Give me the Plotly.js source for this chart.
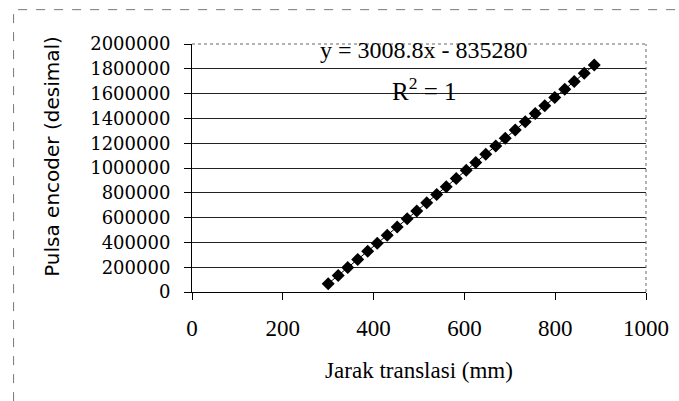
<!DOCTYPE html>
<html>
<head>
<meta charset="utf-8">
<script src="https://cdn.plot.ly/plotly-3.0.1.min.js"></script>
<style>
  html, body { margin: 0; padding: 0; background: #fff; }
  #chart { width: 679px; height: 401px; }
</style>
</head>
<body>
<div id="chart"></div>
<script>
// Data
var jarakTranslasi = [300, 322, 343, 365, 387, 408, 430, 452, 474, 495, 517, 539, 560, 582,
                      604, 625, 647, 669, 690, 712, 734, 756, 777, 799, 821, 842, 864, 886];
var pulsaEncoder = [67400, 133600, 196700, 262900, 329100, 392300, 458500, 524700, 590900, 654100,
                    720300, 786500, 849600, 915800, 982000, 1045200, 1111400, 1177600, 1240800, 1307000,
                    1373200, 1439400, 1502600, 1568800, 1634900, 1698100, 1764300, 1830500];
var xTickValues = [0, 200, 400, 600, 800, 1000];
var yTickValues = [0, 200000, 400000, 600000, 800000, 1000000, 1200000, 1400000, 1600000, 1800000, 2000000];
var xTitle = "Jarak translasi (mm)";
var yTitle = "Pulsa encoder (desimal)";
var equationText = "y = 3008.8x - 835280";
var r2Text = "R<sup>2</sup> = 1";

var trace = {
  x: jarakTranslasi,
  y: pulsaEncoder,
  type: 'scatter',
  mode: 'lines+markers',
  line: { color: '#000', width: 1 },
  marker: { symbol: 'diamond', size: 10, color: '#000' },
  hoverinfo: 'skip',
  showlegend: false
};

var serif = 'Liberation Serif, Times New Roman, serif';

var layout = {
  width: 679,
  height: 401,
  margin: { l: 191.5, r: 33, t: 43.5, b: 108.5 },
  paper_bgcolor: '#fff',
  plot_bgcolor: '#fff',
  showlegend: false,
  xaxis: {
    range: [0, 1000],
    tickvals: xTickValues,
    ticktext: xTickValues.map(String),
    showgrid: false,
    zeroline: false,
    showline: true,
    linecolor: '#000',
    linewidth: 1,
    ticks: 'outside',
    ticklen: 7,
    tickcolor: '#000',
    tickfont: { family: serif, size: 23, color: '#000' },
    ticklabelstandoff: 8,
    title: { text: xTitle, font: { family: serif, size: 23, color: '#000' }, standoff: 22 },
    fixedrange: true
  },
  yaxis: {
    range: [0, 2000000],
    tickvals: yTickValues,
    ticktext: yTickValues.map(String),
    showgrid: true,
    gridcolor: '#222',
    gridwidth: 1,
    zeroline: false,
    showline: true,
    linecolor: '#000',
    linewidth: 1,
    ticks: 'outside',
    ticklen: 7,
    tickcolor: '#000',
    tickfont: { family: 'DejaVu Serif, serif', size: 18, color: '#000' },
    ticklabelstandoff: 10,
    fixedrange: true
  },
  shapes: [
    { type: 'line', xref: 'paper', yref: 'paper', x0: 0, x1: 1, y0: 1, y1: 1,
      line: { color: '#666', width: 1, dash: 'dot' } },
    { type: 'line', xref: 'paper', yref: 'paper', x0: 1, x1: 1, y0: 0, y1: 1,
      line: { color: '#666', width: 1, dash: 'dot' } },
    { type: 'path', xref: 'paper', yref: 'paper',
      path: 'M -0.393 -0.44 L -0.393 1.1385 L 1.08 1.1385',
      line: { color: '#777', width: 1, dash: 'dash' } }
  ],
  annotations: [
    { x: 510, y: 1955000, xref: 'x', yref: 'y', text: equationText, showarrow: false,
      font: { family: serif, size: 24, color: '#000' }, xanchor: 'center', yanchor: 'middle' },
    { x: 512, y: 1640000, xref: 'x', yref: 'y', text: r2Text, showarrow: false,
      font: { family: serif, size: 25, color: '#000' }, xanchor: 'center', yanchor: 'middle' },
    { x: -0.31, y: 0.546, xref: 'paper', yref: 'paper', text: yTitle, showarrow: false,
      textangle: -90, font: { family: 'DejaVu Sans, sans-serif', size: 20, color: '#000' },
      xanchor: 'center', yanchor: 'middle' }
  ]
};

Plotly.newPlot('chart', [trace], layout, { staticPlot: true, displayModeBar: false });
</script>
</body>
</html>
